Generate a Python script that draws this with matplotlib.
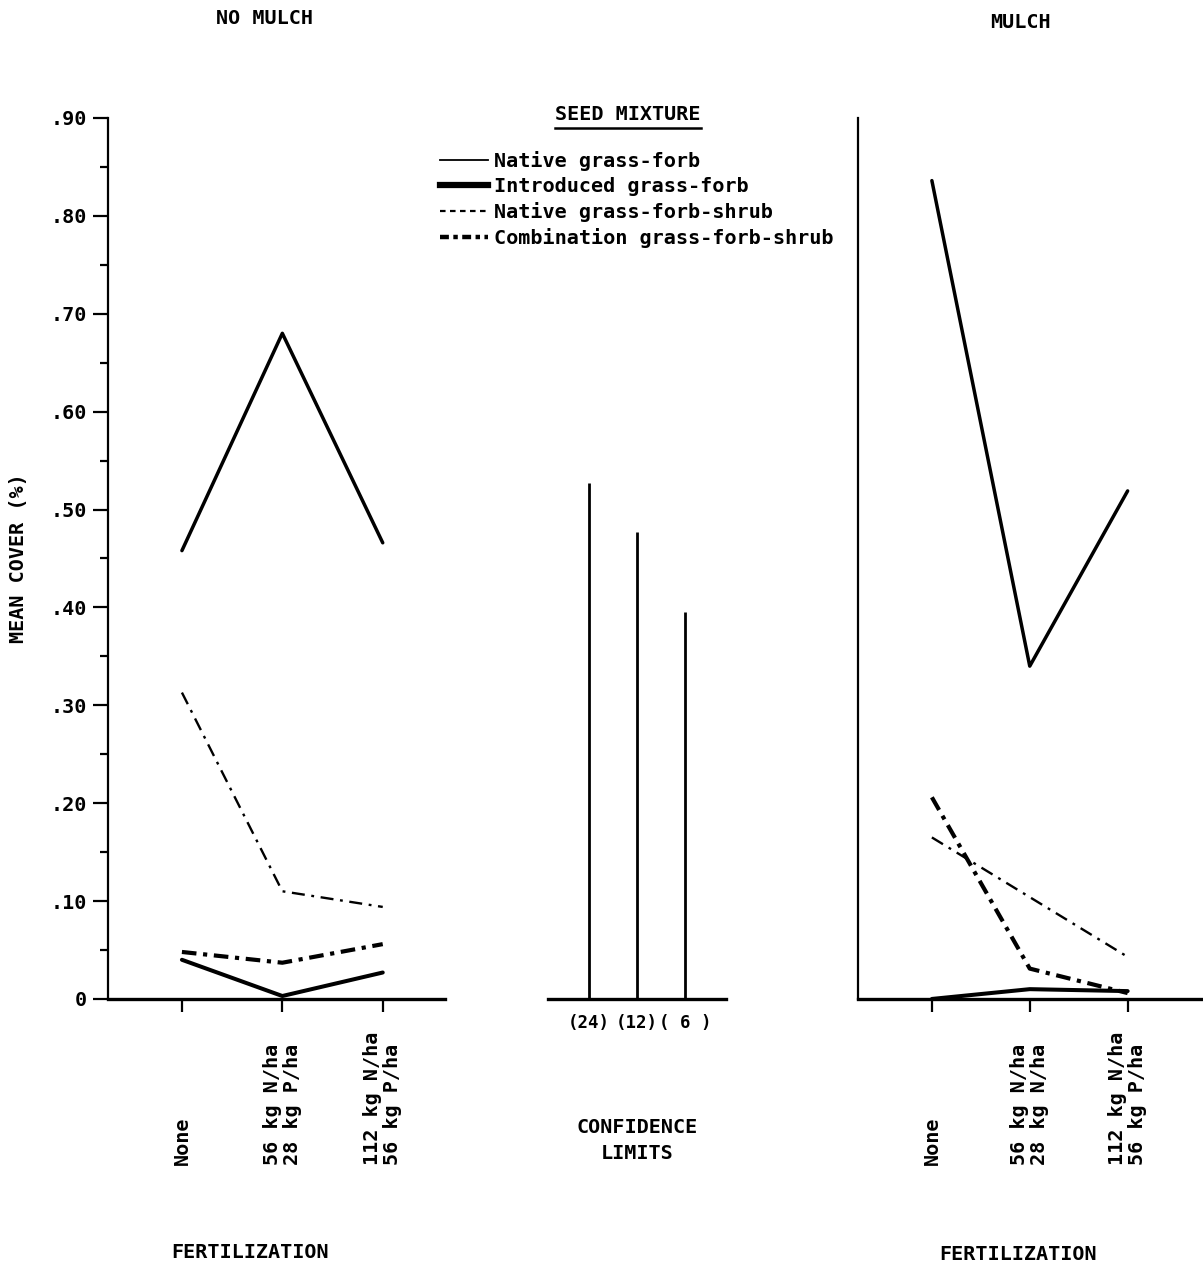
"""Mean cover by seed mixture and fertilization, no mulch vs mulch, with confidence limits."""

import matplotlib
matplotlib.use("Agg")
import matplotlib.pyplot as plt
import matplotlib.transforms as mtransforms
from matplotlib.lines import Line2D
from matplotlib.ticker import MultipleLocator

plt.rcParams["font.family"] = ["DejaVu Sans Mono", "DejaVu Sans"]
plt.rcParams["font.weight"] = "bold"
plt.rcParams["axes.labelweight"] = "bold"

# ---- data -----------------------------------------------------------------
fert_left = ["None", "56 kg N/ha\n28 kg P/ha", "112 kg N/ha\n56 kg P/ha"]
fert_right = ["None", "56 kg N/ha\n28 kg N/ha", "112 kg N/ha\n56 kg P/ha"]

series = [
    "Native grass-forb",
    "Introduced grass-forb",
    "Native grass-forb-shrub",
    "Combination grass-forb-shrub",
]

no_mulch_native_gf = [0.458, 0.680, 0.466]
no_mulch_intro_gf = [0.040, 0.003, 0.027]
no_mulch_native_gfs = [0.313, 0.110, 0.094]
no_mulch_combo_gfs = [0.048, 0.037, 0.056]

mulch_native_gf = [0.836, 0.340, 0.519]
mulch_intro_gf = [0.000, 0.010, 0.008]
mulch_native_gfs = [0.165, 0.104, 0.043]
mulch_combo_gfs = [0.206, 0.031, 0.006]

ci_labels = ["(24)", "(12)", "( 6 )"]
ci_values = [0.527, 0.477, 0.395]

y_ticks = [0.0, 0.1, 0.2, 0.3, 0.4, 0.5, 0.6, 0.7, 0.8, 0.9]
y_tick_labels = ["0", ".10", ".20", ".30", ".40", ".50", ".60", ".70", ".80", ".90"]

# ---- styles ----------------------------------------------------------------
INK = "black"
FS = 14.5
styles = {
    "Native grass-forb": dict(color=INK, lw=2.5, ls="-", solid_capstyle="round"),
    "Introduced grass-forb": dict(color=INK, lw=2.9, ls="-", solid_capstyle="round"),
    "Native grass-forb-shrub": dict(color=INK, lw=1.7, ls=(0, (5.5, 2.8, 1.2, 2.8))),
    "Combination grass-forb-shrub": dict(color=INK, lw=3.0, ls=(0, (3.5, 1.6, 1.0, 1.6))),
}
legend_styles = {
    "Native grass-forb": dict(color=INK, lw=1.3, ls="-"),
    "Introduced grass-forb": dict(color=INK, lw=4.5, ls="-"),
    "Native grass-forb-shrub": dict(color=INK, lw=1.6, ls=(0, (2.5, 2, 2.5, 2))),
    "Combination grass-forb-shrub": dict(color=INK, lw=3.2, ls=(0, (2, 1, 1, 1))),
}

fig = plt.figure(figsize=(12.03, 12.74), dpi=100)
B, H = 0.2159, 0.6915
ax1 = fig.add_axes([0.0898, B, 0.2801, H])
ax2 = fig.add_axes([0.4555, B, 0.1480, H])
ax3 = fig.add_axes([0.7132, B, 0.2868, H])

x = [0, 1, 2]


def base_axes(ax, xlim):
    ax.set_xlim(*xlim)
    ax.set_ylim(0, 0.9)
    for s in ("top", "right"):
        ax.spines[s].set_visible(False)
    ax.spines["left"].set_linewidth(1.6)
    ax.spines["bottom"].set_linewidth(2.4)


def fert_labels(ax, labels):
    ax.set_xticks(x)
    ax.set_xticklabels([])
    ax.tick_params(axis="x", direction="out", length=9, width=1.6)
    trans = mtransforms.blended_transform_factory(ax.transData, ax.transAxes)
    for xi, lab in zip(x, labels):
        ax.text(xi, -0.188, lab, transform=trans, rotation=90, ha="center",
                va="bottom", multialignment="left", fontsize=FS, linespacing=1.05)


# no mulch panel
base_axes(ax1, (-0.736, 2.62))
for name, vals in zip(series, [no_mulch_native_gf, no_mulch_intro_gf,
                               no_mulch_native_gfs, no_mulch_combo_gfs]):
    ax1.plot(x, vals, **styles[name])
ax1.set_yticks(y_ticks)
ax1.set_yticklabels(y_tick_labels, fontsize=FS)
ax1.yaxis.set_minor_locator(MultipleLocator(0.05))
ax1.tick_params(axis="y", which="major", direction="out", length=11, width=1.6, pad=4)
ax1.tick_params(axis="y", which="minor", direction="out", length=6, width=1.6)
ax1.set_ylabel("MEAN COVER (%)", fontsize=FS, fontweight="bold")
ax1.yaxis.set_label_coords(-0.237, 0.5)
fert_labels(ax1, fert_left)

# confidence limits
base_axes(ax2, (-0.854, 2.854))
ax2.spines["left"].set_visible(False)
ax2.vlines(x, 0, ci_values, color=INK, lw=2.0)
ax2.set_yticks([])
ax2.set_xticks(x)
ax2.set_xticklabels(ci_labels, fontsize=12.5)
ax2.tick_params(axis="x", length=0, pad=11)
ax2.text(0.5, -0.135, "CONFIDENCE\nLIMITS", transform=ax2.transAxes,
         ha="center", va="top", fontsize=FS, linespacing=1.45)

# mulch panel
base_axes(ax3, (-0.755, 2.77))
for name, vals in zip(series, [mulch_native_gf, mulch_intro_gf,
                               mulch_native_gfs, mulch_combo_gfs]):
    ax3.plot(x, vals, **styles[name])
ax3.set_yticks([])
fert_labels(ax3, fert_right)

# legend
handles = [Line2D([], [], **legend_styles[n]) for n in series]
fig.legend(handles, series, loc="upper left",
           bbox_to_anchor=(440 / 1203, 1 - 151 / 1274), frameon=False,
           fontsize=FS, handlelength=2.4, handletextpad=0.3, labelspacing=0.3,
           borderpad=0, borderaxespad=0)

seed = fig.text(628 / 1203, 1 - 115 / 1274, "SEED MIXTURE", ha="center",
                va="center", fontsize=FS)
fig.canvas.draw()
bb = seed.get_window_extent().transformed(fig.transFigure.inverted())
fig.add_artist(Line2D([bb.x0, bb.x1], [bb.y0 - 0.003, bb.y0 - 0.003],
                      transform=fig.transFigure, color=INK, lw=1.8))

# panel titles and axis captions
fig.text(265 / 1203, 1 - 18 / 1274, "NO MULCH", ha="center", va="center", fontsize=FS)
fig.text(1020 / 1203, 1 - 22 / 1274, "MULCH", ha="center", va="center", fontsize=FS)
fig.text(250 / 1203, 1 - 1252 / 1274, "FERTILIZATION", ha="center", va="center", fontsize=FS)
fig.text(1018 / 1203, 1 - 1255 / 1274, "FERTILIZATION", ha="center", va="center", fontsize=FS)

fig.savefig("out.png", dpi=100, facecolor="white")
plt.close(fig)
